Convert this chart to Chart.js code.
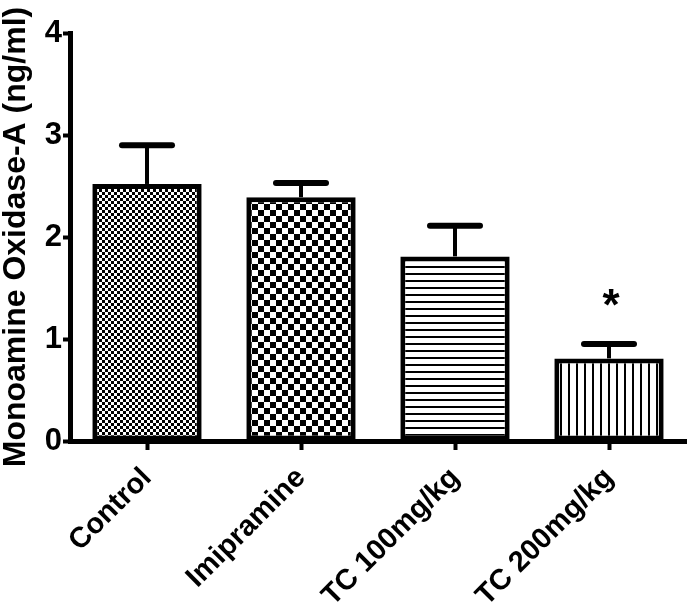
<!DOCTYPE html>
<html>
<head>
<meta charset="utf-8">
<script src="https://cdn.jsdelivr.net/npm/chart.js@4.4.1/dist/chart.umd.min.js"></script>
<style>
  html, body { margin: 0; padding: 0; background: #fff; }
  #wrap { width: 688px; height: 607px; }
</style>
</head>
<body>
<div id="wrap"><canvas id="maoChart"></canvas></div>
<script>
// DATA
const groups = ["Control", "Imipramine", "TC 100mg/kg", "TC 200mg/kg"];
const means = [2.52, 2.39, 1.81, 0.81];
const sems = [0.38, 0.14, 0.30, 0.14];
const marks = ["", "", "", "*"];
const yTicks = [0, 1, 2, 3, 4];

const FONT = "'Liberation Sans', Arial, sans-serif";
const ctx = document.getElementById("maoChart");
const c2d = ctx.getContext("2d");

// PATTERNS
function makePattern(size, draw) {
  const c = document.createElement("canvas");
  c.width = size;
  c.height = size;
  const g = c.getContext("2d");
  g.fillStyle = "#fff";
  g.fillRect(0, 0, size, size);
  g.fillStyle = "#000";
  draw(g, size);
  return c2d.createPattern(c, "repeat");
}

const fills = [
  makePattern(6, (g) => { g.fillRect(0, 0, 3, 3); g.fillRect(3, 3, 3, 3); }),
  makePattern(12, (g) => { g.fillRect(0, 0, 6, 6); g.fillRect(6, 6, 6, 6); }),
  makePattern(7, (g) => { g.fillRect(0, 0, 7, 2); }),
  makePattern(8, (g) => { g.fillRect(0, 0, 2, 8); })
];

// ERROR BARS + ASTERISK
const errorBars = {
  id: "errorBars",
  afterDatasetsDraw(chart) {
    const { ctx, scales: { y } } = chart;
    const meta = chart.getDatasetMeta(0);
    ctx.save();
    ctx.strokeStyle = "#000";
    ctx.fillStyle = "#000";
    meta.data.forEach((bar, i) => {
      const base = y.getPixelForValue(means[i]);
      const top = y.getPixelForValue(means[i] + sems[i]);
      ctx.lineCap = "butt";
      ctx.lineWidth = 4;
      ctx.beginPath();
      ctx.moveTo(bar.x, base);
      ctx.lineTo(bar.x, top);
      ctx.stroke();
      ctx.lineCap = "round";
      ctx.lineWidth = 6;
      ctx.beginPath();
      ctx.moveTo(bar.x - 25, top);
      ctx.lineTo(bar.x + 25, top);
      ctx.stroke();
      if (marks[i]) {
        ctx.font = `bold 44px ${FONT}`;
        ctx.textAlign = "center";
        ctx.textBaseline = "alphabetic";
        ctx.fillText(marks[i], bar.x + 2, top - 24);
      }
    });
    ctx.restore();
  }
};

new Chart(ctx, {
  type: "bar",
  data: {
    labels: groups,
    datasets: [{
      data: means,
      backgroundColor: fills,
      borderColor: "#000",
      borderWidth: 5,
      borderSkipped: false,
      barPercentage: 0.71,
      categoryPercentage: 1
    }]
  },
  options: {
    responsive: true,
    maintainAspectRatio: false,
    animation: false,
    layout: { padding: { top: 33, right: 2, left: 0, bottom: 0 } },
    plugins: {
      legend: { display: false },
      tooltip: { enabled: false }
    },
    scales: {
      x: {
        offset: true,
        grid: {
          offset: false,
          drawOnChartArea: false,
          tickLength: 9,
          tickWidth: 4,
          tickColor: "#000",
          color: "#000"
        },
        border: { display: true, color: "#000", width: 5 },
        ticks: {
          color: "#000",
          font: { family: FONT, size: 29, weight: "bold" },
          maxRotation: 45,
          minRotation: 45,
          padding: 11
        },
        afterFit(s) { s.height = 166; }
      },
      y: {
        min: 0,
        max: 4,
        afterBuildTicks(s) { s.ticks = yTicks.map(v => ({ value: v })); },
        grid: {
          drawOnChartArea: false,
          tickLength: 7,
          tickWidth: 4,
          tickColor: "#000",
          color: "#000"
        },
        border: { display: true, color: "#000", width: 5 },
        ticks: {
          color: "#000",
          font: { family: FONT, size: 31, weight: "bold" },
          padding: 1
        },
        title: {
          display: true,
          text: "Monoamine Oxidase-A (ng/ml)",
          color: "#000",
          font: { family: FONT, size: 32, weight: "bold", lineHeight: 1 },
          padding: 0
        },
        afterFit(s) { s.width = 70; }
      }
    }
  },
  plugins: [errorBars]
});
</script>
</body>
</html>
